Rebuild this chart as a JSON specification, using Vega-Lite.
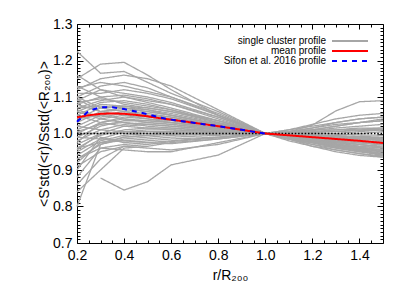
{
"$schema": "https://vega.github.io/schema/vega-lite/v6.json",
"width": 306, "height": 219,
"autosize": {"type": "none"},
"padding": {"left": 77, "top": 24, "right": 24, "bottom": 48},
"config": {
  "view": {"stroke": "black", "strokeWidth": 1},
  "font": "Liberation Sans",
  "axis": {"grid": false, "domain": false, "ticks": true, "zindex": 1, "tickColor": "black", "tickWidth": 1, "tickOpacity": 1, "labelColor": "black", "labelFont": "Liberation Sans", "labelFontSize": 14, "titleFont": "Liberation Sans", "titleFontSize": 14, "titleFontWeight": "normal", "titleColor": "black", "labelOverlap": false, "labelFlush": false, "labelBound": false}
},
"resolve": {"axis": {"x": "independent", "y": "independent"}},
"layer": [
{
  "data": {"values": [
{"i":1,"x":0.2,"y":1.225},{"i":1,"x":0.3,"y":1.165},{"i":1,"x":0.4,"y":1.17},{"i":1,"x":0.5,"y":1.14},{"i":1,"x":0.6,"y":1.11},{"i":1,"x":0.8,"y":1.06},{"i":1,"x":1.0,"y":1},{"i":1,"x":1.1,"y":0.99},{"i":1,"x":1.2,"y":0.975},{"i":1,"x":1.3,"y":0.965},{"i":1,"x":1.4,"y":0.955},{"i":1,"x":1.5,"y":0.95},
{"i":2,"x":0.2,"y":1.15},{"i":2,"x":0.3,"y":1.19},{"i":2,"x":0.4,"y":1.195},{"i":2,"x":0.5,"y":1.16},{"i":2,"x":0.6,"y":1.12},{"i":2,"x":0.8,"y":1.05},{"i":2,"x":1.0,"y":1},{"i":2,"x":1.1,"y":0.985},{"i":2,"x":1.2,"y":0.97},{"i":2,"x":1.3,"y":0.96},{"i":2,"x":1.4,"y":0.95},{"i":2,"x":1.5,"y":0.945},
{"i":3,"x":0.2,"y":1.12},{"i":3,"x":0.3,"y":1.15},{"i":3,"x":0.4,"y":1.16},{"i":3,"x":0.5,"y":1.15},{"i":3,"x":0.6,"y":1.13},{"i":3,"x":0.8,"y":1.065},{"i":3,"x":1.0,"y":1},{"i":3,"x":1.1,"y":0.99},{"i":3,"x":1.2,"y":0.98},{"i":3,"x":1.3,"y":0.97},{"i":3,"x":1.4,"y":0.96},{"i":3,"x":1.5,"y":0.955},
{"i":4,"x":0.2,"y":1.1},{"i":4,"x":0.3,"y":1.13},{"i":4,"x":0.4,"y":1.14},{"i":4,"x":0.5,"y":1.125},{"i":4,"x":0.6,"y":1.1},{"i":4,"x":0.8,"y":1.055},{"i":4,"x":1.0,"y":1},{"i":4,"x":1.1,"y":0.985},{"i":4,"x":1.2,"y":0.975},{"i":4,"x":1.3,"y":0.965},{"i":4,"x":1.4,"y":0.955},{"i":4,"x":1.5,"y":0.94},
{"i":5,"x":0.2,"y":1.11},{"i":5,"x":0.3,"y":1.11},{"i":5,"x":0.4,"y":1.12},{"i":5,"x":0.5,"y":1.11},{"i":5,"x":0.6,"y":1.095},{"i":5,"x":0.8,"y":1.05},{"i":5,"x":1.0,"y":1},{"i":5,"x":1.1,"y":0.995},{"i":5,"x":1.2,"y":0.99},{"i":5,"x":1.3,"y":0.985},{"i":5,"x":1.4,"y":0.98},{"i":5,"x":1.5,"y":0.975},
{"i":6,"x":0.2,"y":1.09},{"i":6,"x":0.3,"y":1.12},{"i":6,"x":0.4,"y":1.11},{"i":6,"x":0.5,"y":1.1},{"i":6,"x":0.6,"y":1.085},{"i":6,"x":0.8,"y":1.045},{"i":6,"x":1.0,"y":1},{"i":6,"x":1.1,"y":0.99},{"i":6,"x":1.2,"y":0.985},{"i":6,"x":1.3,"y":0.975},{"i":6,"x":1.4,"y":0.965},{"i":6,"x":1.5,"y":0.96},
{"i":7,"x":0.2,"y":1.08},{"i":7,"x":0.3,"y":1.1},{"i":7,"x":0.4,"y":1.105},{"i":7,"x":0.5,"y":1.095},{"i":7,"x":0.6,"y":1.08},{"i":7,"x":0.8,"y":1.04},{"i":7,"x":1.0,"y":1},{"i":7,"x":1.1,"y":0.995},{"i":7,"x":1.2,"y":0.99},{"i":7,"x":1.3,"y":0.98},{"i":7,"x":1.4,"y":0.975},{"i":7,"x":1.5,"y":0.97},
{"i":8,"x":0.2,"y":1.07},{"i":8,"x":0.3,"y":1.09},{"i":8,"x":0.4,"y":1.1},{"i":8,"x":0.5,"y":1.085},{"i":8,"x":0.6,"y":1.07},{"i":8,"x":0.8,"y":1.035},{"i":8,"x":1.0,"y":1},{"i":8,"x":1.1,"y":0.99},{"i":8,"x":1.2,"y":0.985},{"i":8,"x":1.3,"y":0.985},{"i":8,"x":1.4,"y":0.98},{"i":8,"x":1.5,"y":0.975},
{"i":9,"x":0.2,"y":1.06},{"i":9,"x":0.3,"y":1.085},{"i":9,"x":0.4,"y":1.09},{"i":9,"x":0.5,"y":1.08},{"i":9,"x":0.6,"y":1.065},{"i":9,"x":0.8,"y":1.03},{"i":9,"x":1.0,"y":1},{"i":9,"x":1.1,"y":0.998},{"i":9,"x":1.2,"y":0.995},{"i":9,"x":1.3,"y":0.99},{"i":9,"x":1.4,"y":0.985},{"i":9,"x":1.5,"y":0.985},
{"i":10,"x":0.2,"y":1.05},{"i":10,"x":0.3,"y":1.08},{"i":10,"x":0.4,"y":1.075},{"i":10,"x":0.5,"y":1.07},{"i":10,"x":0.6,"y":1.06},{"i":10,"x":0.8,"y":1.03},{"i":10,"x":1.0,"y":1},{"i":10,"x":1.1,"y":0.99},{"i":10,"x":1.2,"y":0.98},{"i":10,"x":1.3,"y":0.97},{"i":10,"x":1.4,"y":0.96},{"i":10,"x":1.5,"y":0.95},
{"i":11,"x":0.2,"y":1.04},{"i":11,"x":0.3,"y":1.07},{"i":11,"x":0.4,"y":1.075},{"i":11,"x":0.5,"y":1.065},{"i":11,"x":0.6,"y":1.05},{"i":11,"x":0.8,"y":1.025},{"i":11,"x":1.0,"y":1},{"i":11,"x":1.1,"y":0.985},{"i":11,"x":1.2,"y":0.975},{"i":11,"x":1.3,"y":0.965},{"i":11,"x":1.4,"y":0.955},{"i":11,"x":1.5,"y":0.945},
{"i":12,"x":0.2,"y":1.03},{"i":12,"x":0.3,"y":1.06},{"i":12,"x":0.4,"y":1.065},{"i":12,"x":0.5,"y":1.06},{"i":12,"x":0.6,"y":1.05},{"i":12,"x":0.8,"y":1.025},{"i":12,"x":1.0,"y":1},{"i":12,"x":1.1,"y":0.995},{"i":12,"x":1.2,"y":0.99},{"i":12,"x":1.3,"y":0.985},{"i":12,"x":1.4,"y":0.98},{"i":12,"x":1.5,"y":0.978},
{"i":13,"x":0.2,"y":1.1},{"i":13,"x":0.3,"y":1.07},{"i":13,"x":0.4,"y":1.06},{"i":13,"x":0.5,"y":1.055},{"i":13,"x":0.6,"y":1.045},{"i":13,"x":0.8,"y":1.02},{"i":13,"x":1.0,"y":1},{"i":13,"x":1.1,"y":1.0},{"i":13,"x":1.2,"y":0.995},{"i":13,"x":1.3,"y":0.99},{"i":13,"x":1.4,"y":0.99},{"i":13,"x":1.5,"y":0.985},
{"i":14,"x":0.2,"y":1.02},{"i":14,"x":0.3,"y":1.05},{"i":14,"x":0.4,"y":1.06},{"i":14,"x":0.5,"y":1.05},{"i":14,"x":0.6,"y":1.04},{"i":14,"x":0.8,"y":1.02},{"i":14,"x":1.0,"y":1},{"i":14,"x":1.1,"y":0.993},{"i":14,"x":1.2,"y":0.988},{"i":14,"x":1.3,"y":0.98},{"i":14,"x":1.4,"y":0.975},{"i":14,"x":1.5,"y":0.97},
{"i":15,"x":0.2,"y":1.01},{"i":15,"x":0.3,"y":1.04},{"i":15,"x":0.4,"y":1.05},{"i":15,"x":0.5,"y":1.045},{"i":15,"x":0.6,"y":1.04},{"i":15,"x":0.8,"y":1.02},{"i":15,"x":1.0,"y":1},{"i":15,"x":1.1,"y":1.005},{"i":15,"x":1.2,"y":1.01},{"i":15,"x":1.3,"y":1.01},{"i":15,"x":1.4,"y":1.015},{"i":15,"x":1.5,"y":1.015},
{"i":16,"x":0.2,"y":1.0},{"i":16,"x":0.3,"y":1.03},{"i":16,"x":0.4,"y":1.045},{"i":16,"x":0.5,"y":1.04},{"i":16,"x":0.6,"y":1.035},{"i":16,"x":0.8,"y":1.015},{"i":16,"x":1.0,"y":1},{"i":16,"x":1.1,"y":0.995},{"i":16,"x":1.2,"y":0.99},{"i":16,"x":1.3,"y":0.988},{"i":16,"x":1.4,"y":0.985},{"i":16,"x":1.5,"y":0.982},
{"i":17,"x":0.2,"y":0.99},{"i":17,"x":0.3,"y":1.02},{"i":17,"x":0.4,"y":1.035},{"i":17,"x":0.5,"y":1.035},{"i":17,"x":0.6,"y":1.03},{"i":17,"x":0.8,"y":1.015},{"i":17,"x":1.0,"y":1},{"i":17,"x":1.1,"y":1.002},{"i":17,"x":1.2,"y":1.005},{"i":17,"x":1.3,"y":1.01},{"i":17,"x":1.4,"y":1.012},{"i":17,"x":1.5,"y":1.015},
{"i":18,"x":0.2,"y":0.98},{"i":18,"x":0.3,"y":1.01},{"i":18,"x":0.4,"y":1.025},{"i":18,"x":0.5,"y":1.03},{"i":18,"x":0.6,"y":1.025},{"i":18,"x":0.8,"y":1.012},{"i":18,"x":1.0,"y":1},{"i":18,"x":1.1,"y":0.998},{"i":18,"x":1.2,"y":0.996},{"i":18,"x":1.3,"y":0.994},{"i":18,"x":1.4,"y":0.992},{"i":18,"x":1.5,"y":0.99},
{"i":19,"x":0.2,"y":0.97},{"i":19,"x":0.3,"y":1.0},{"i":19,"x":0.4,"y":1.02},{"i":19,"x":0.5,"y":1.025},{"i":19,"x":0.6,"y":1.02},{"i":19,"x":0.8,"y":1.01},{"i":19,"x":1.0,"y":1},{"i":19,"x":1.1,"y":1.005},{"i":19,"x":1.2,"y":1.015},{"i":19,"x":1.3,"y":1.025},{"i":19,"x":1.4,"y":1.03},{"i":19,"x":1.5,"y":1.035},
{"i":20,"x":0.2,"y":0.96},{"i":20,"x":0.3,"y":0.995},{"i":20,"x":0.4,"y":1.01},{"i":20,"x":0.5,"y":1.015},{"i":20,"x":0.6,"y":1.015},{"i":20,"x":0.8,"y":1.008},{"i":20,"x":1.0,"y":1},{"i":20,"x":1.1,"y":1.01},{"i":20,"x":1.2,"y":1.02},{"i":20,"x":1.3,"y":1.03},{"i":20,"x":1.4,"y":1.04},{"i":20,"x":1.5,"y":1.045},
{"i":21,"x":0.2,"y":0.95},{"i":21,"x":0.3,"y":0.985},{"i":21,"x":0.4,"y":1.005},{"i":21,"x":0.5,"y":1.01},{"i":21,"x":0.6,"y":1.01},{"i":21,"x":0.8,"y":1.005},{"i":21,"x":1.0,"y":1},{"i":21,"x":1.1,"y":1.0},{"i":21,"x":1.2,"y":1.003},{"i":21,"x":1.3,"y":1.005},{"i":21,"x":1.4,"y":1.008},{"i":21,"x":1.5,"y":1.01},
{"i":22,"x":0.2,"y":0.94},{"i":22,"x":0.3,"y":0.98},{"i":22,"x":0.4,"y":0.995},{"i":22,"x":0.5,"y":1.0},{"i":22,"x":0.6,"y":1.005},{"i":22,"x":0.8,"y":1.002},{"i":22,"x":1.0,"y":1},{"i":22,"x":1.1,"y":1.005},{"i":22,"x":1.2,"y":1.023},{"i":22,"x":1.3,"y":1.062},{"i":22,"x":1.4,"y":1.087},{"i":22,"x":1.5,"y":1.09},
{"i":23,"x":0.2,"y":0.93},{"i":23,"x":0.3,"y":0.97},{"i":23,"x":0.4,"y":0.985},{"i":23,"x":0.5,"y":0.99},{"i":23,"x":0.6,"y":0.995},{"i":23,"x":0.8,"y":0.998},{"i":23,"x":1.0,"y":1},{"i":23,"x":1.1,"y":1.01},{"i":23,"x":1.2,"y":1.025},{"i":23,"x":1.3,"y":1.04},{"i":23,"x":1.4,"y":1.05},{"i":23,"x":1.5,"y":1.055},
{"i":24,"x":0.2,"y":0.92},{"i":24,"x":0.3,"y":0.975},{"i":24,"x":0.4,"y":0.98},{"i":24,"x":0.5,"y":0.985},{"i":24,"x":0.6,"y":0.99},{"i":24,"x":0.8,"y":0.995},{"i":24,"x":1.0,"y":1},{"i":24,"x":1.1,"y":1.005},{"i":24,"x":1.2,"y":1.015},{"i":24,"x":1.3,"y":1.03},{"i":24,"x":1.4,"y":1.04},{"i":24,"x":1.5,"y":1.045},
{"i":25,"x":0.2,"y":0.9},{"i":25,"x":0.3,"y":0.99},{"i":25,"x":0.4,"y":0.975},{"i":25,"x":0.5,"y":0.98},{"i":25,"x":0.6,"y":0.985},{"i":25,"x":0.8,"y":0.99},{"i":25,"x":1.0,"y":1},{"i":25,"x":1.1,"y":1.0},{"i":25,"x":1.2,"y":0.995},{"i":25,"x":1.3,"y":0.99},{"i":25,"x":1.4,"y":0.985},{"i":25,"x":1.5,"y":0.98},
{"i":26,"x":0.2,"y":0.88},{"i":26,"x":0.3,"y":0.96},{"i":26,"x":0.4,"y":0.97},{"i":26,"x":0.5,"y":0.975},{"i":26,"x":0.6,"y":0.98},{"i":26,"x":0.8,"y":0.99},{"i":26,"x":1.0,"y":1},{"i":26,"x":1.1,"y":0.995},{"i":26,"x":1.2,"y":0.99},{"i":26,"x":1.3,"y":0.985},{"i":26,"x":1.4,"y":0.975},{"i":26,"x":1.5,"y":0.97},
{"i":27,"x":0.2,"y":0.86},{"i":27,"x":0.3,"y":0.93},{"i":27,"x":0.4,"y":0.965},{"i":27,"x":0.5,"y":0.97},{"i":27,"x":0.6,"y":0.978},{"i":27,"x":0.8,"y":0.988},{"i":27,"x":1.0,"y":1},{"i":27,"x":1.1,"y":0.99},{"i":27,"x":1.2,"y":0.98},{"i":27,"x":1.3,"y":0.965},{"i":27,"x":1.4,"y":0.955},{"i":27,"x":1.5,"y":0.945},
{"i":28,"x":0.2,"y":0.84},{"i":28,"x":0.3,"y":0.9},{"i":28,"x":0.4,"y":0.96},{"i":28,"x":0.5,"y":0.965},{"i":28,"x":0.6,"y":0.975},{"i":28,"x":0.8,"y":0.985},{"i":28,"x":1.0,"y":1},{"i":28,"x":1.1,"y":0.985},{"i":28,"x":1.2,"y":0.97},{"i":28,"x":1.3,"y":0.955},{"i":28,"x":1.4,"y":0.945},{"i":28,"x":1.5,"y":0.935},
{"i":29,"x":0.2,"y":0.8},{"i":29,"x":0.3,"y":0.97},{"i":29,"x":0.4,"y":0.99},{"i":29,"x":0.5,"y":0.995},{"i":29,"x":0.6,"y":0.998},{"i":29,"x":0.8,"y":0.999},{"i":29,"x":1.0,"y":1},{"i":29,"x":1.1,"y":1.002},{"i":29,"x":1.2,"y":1.004},{"i":29,"x":1.3,"y":1.006},{"i":29,"x":1.4,"y":1.01},{"i":29,"x":1.5,"y":1.012},
{"i":30,"x":0.2,"y":0.93},{"i":30,"x":0.3,"y":0.96},{"i":30,"x":0.4,"y":0.955},{"i":30,"x":0.5,"y":0.95},{"i":30,"x":0.6,"y":0.95},{"i":30,"x":0.8,"y":0.975},{"i":30,"x":1.0,"y":1},{"i":30,"x":1.1,"y":0.99},{"i":30,"x":1.2,"y":0.975},{"i":30,"x":1.3,"y":0.96},{"i":30,"x":1.4,"y":0.95},{"i":30,"x":1.5,"y":0.94},
{"i":31,"x":0.2,"y":0.99},{"i":31,"x":0.3,"y":0.985},{"i":31,"x":0.4,"y":0.98},{"i":31,"x":0.5,"y":0.975},{"i":31,"x":0.6,"y":0.972},{"i":31,"x":0.8,"y":0.985},{"i":31,"x":1.0,"y":1},{"i":31,"x":1.1,"y":0.98},{"i":31,"x":1.2,"y":0.965},{"i":31,"x":1.3,"y":0.95},{"i":31,"x":1.4,"y":0.94},{"i":31,"x":1.5,"y":0.935},
{"i":32,"x":0.2,"y":1.06},{"i":32,"x":0.3,"y":1.04},{"i":32,"x":0.4,"y":1.03},{"i":32,"x":0.5,"y":1.02},{"i":32,"x":0.6,"y":1.015},{"i":32,"x":0.8,"y":1.005},{"i":32,"x":1.0,"y":1},{"i":32,"x":1.1,"y":0.99},{"i":32,"x":1.2,"y":0.98},{"i":32,"x":1.3,"y":0.975},{"i":32,"x":1.4,"y":0.97},{"i":32,"x":1.5,"y":0.965},
{"i":33,"x":0.2,"y":1.08},{"i":33,"x":0.3,"y":1.06},{"i":33,"x":0.4,"y":1.05},{"i":33,"x":0.5,"y":1.04},{"i":33,"x":0.6,"y":1.03},{"i":33,"x":0.8,"y":1.015},{"i":33,"x":1.0,"y":1},{"i":33,"x":1.1,"y":0.995},{"i":33,"x":1.2,"y":0.985},{"i":33,"x":1.3,"y":0.975},{"i":33,"x":1.4,"y":0.965},{"i":33,"x":1.5,"y":0.96},
{"i":34,"x":0.2,"y":1.05},{"i":34,"x":0.3,"y":1.03},{"i":34,"x":0.4,"y":1.02},{"i":34,"x":0.5,"y":1.015},{"i":34,"x":0.6,"y":1.01},{"i":34,"x":0.8,"y":1.005},{"i":34,"x":1.0,"y":1},{"i":34,"x":1.1,"y":1.005},{"i":34,"x":1.2,"y":1.01},{"i":34,"x":1.3,"y":1.02},{"i":34,"x":1.4,"y":1.03},{"i":34,"x":1.5,"y":1.04},
{"i":35,"x":0.2,"y":1.0},{"i":35,"x":0.3,"y":1.0},{"i":35,"x":0.4,"y":1.0},{"i":35,"x":0.5,"y":1.0},{"i":35,"x":0.6,"y":1.002},{"i":35,"x":0.8,"y":1.0},{"i":35,"x":1.0,"y":1},{"i":35,"x":1.1,"y":0.998},{"i":35,"x":1.2,"y":0.995},{"i":35,"x":1.3,"y":0.99},{"i":35,"x":1.4,"y":0.988},{"i":35,"x":1.5,"y":0.985},
{"i":36,"x":0.2,"y":1.02},{"i":36,"x":0.3,"y":1.01},{"i":36,"x":0.4,"y":1.005},{"i":36,"x":0.5,"y":1.0},{"i":36,"x":0.6,"y":0.998},{"i":36,"x":0.8,"y":0.998},{"i":36,"x":1.0,"y":1},{"i":36,"x":1.1,"y":0.994},{"i":36,"x":1.2,"y":0.985},{"i":36,"x":1.3,"y":0.978},{"i":36,"x":1.4,"y":0.97},{"i":36,"x":1.5,"y":0.962},
{"i":37,"x":0.2,"y":1.13},{"i":37,"x":0.3,"y":1.1},{"i":37,"x":0.4,"y":1.08},{"i":37,"x":0.5,"y":1.07},{"i":37,"x":0.6,"y":1.06},{"i":37,"x":0.8,"y":1.035},{"i":37,"x":1.0,"y":1},{"i":37,"x":1.1,"y":0.995},{"i":37,"x":1.2,"y":0.992},{"i":37,"x":1.3,"y":0.995},{"i":37,"x":1.4,"y":1.0},{"i":37,"x":1.5,"y":1.005},
{"i":38,"x":0.2,"y":1.16},{"i":38,"x":0.3,"y":1.12},{"i":38,"x":0.4,"y":1.1},{"i":38,"x":0.5,"y":1.09},{"i":38,"x":0.6,"y":1.08},{"i":38,"x":0.8,"y":1.045},{"i":38,"x":1.0,"y":1},{"i":38,"x":1.1,"y":0.985},{"i":38,"x":1.2,"y":0.965},{"i":38,"x":1.3,"y":0.955},{"i":38,"x":1.4,"y":0.945},{"i":38,"x":1.5,"y":0.938},
{"i":39,"x":0.3,"y":0.878},{"i":39,"x":0.4,"y":0.845},{"i":39,"x":0.5,"y":0.868},{"i":39,"x":0.6,"y":0.914},{"i":39,"x":0.8,"y":0.941},{"i":39,"x":1.0,"y":1},{"i":39,"x":1.1,"y":0.99},{"i":39,"x":1.2,"y":0.98},{"i":39,"x":1.3,"y":0.97},{"i":39,"x":1.4,"y":0.962},{"i":39,"x":1.5,"y":0.955},
{"i":40,"x":0.2,"y":0.91},{"i":40,"x":0.3,"y":0.95},{"i":40,"x":0.4,"y":0.965},{"i":40,"x":0.5,"y":0.96},{"i":40,"x":0.6,"y":0.955},{"i":40,"x":0.8,"y":0.97},{"i":40,"x":1.0,"y":1},{"i":40,"x":1.1,"y":1.0},{"i":40,"x":1.2,"y":1.01},{"i":40,"x":1.3,"y":1.02},{"i":40,"x":1.4,"y":1.03},{"i":40,"x":1.5,"y":1.035},
{"i":41,"x":0.2,"y":1.04},{"i":41,"x":0.3,"y":1.05},{"i":41,"x":0.4,"y":1.04},{"i":41,"x":0.5,"y":1.035},{"i":41,"x":0.6,"y":1.03},{"i":41,"x":0.8,"y":1.015},{"i":41,"x":1.0,"y":1},{"i":41,"x":1.1,"y":0.985},{"i":41,"x":1.2,"y":0.975},{"i":41,"x":1.3,"y":0.962},{"i":41,"x":1.4,"y":0.952},{"i":41,"x":1.5,"y":0.942},
{"i":42,"x":0.2,"y":1.005},{"i":42,"x":0.3,"y":1.025},{"i":42,"x":0.4,"y":1.03},{"i":42,"x":0.5,"y":1.025},{"i":42,"x":0.6,"y":1.02},{"i":42,"x":0.8,"y":1.01},{"i":42,"x":1.0,"y":1},{"i":42,"x":1.1,"y":0.992},{"i":42,"x":1.2,"y":0.982},{"i":42,"x":1.3,"y":0.972},{"i":42,"x":1.4,"y":0.962},{"i":42,"x":1.5,"y":0.953},
{"i":43,"x":0.2,"y":0.96},{"i":43,"x":0.3,"y":0.975},{"i":43,"x":0.4,"y":0.99},{"i":43,"x":0.5,"y":0.995},{"i":43,"x":0.6,"y":1.0},{"i":43,"x":0.8,"y":1.0},{"i":43,"x":1.0,"y":1},{"i":43,"x":1.1,"y":1.003},{"i":43,"x":1.2,"y":1.008},{"i":43,"x":1.3,"y":1.015},{"i":43,"x":1.4,"y":1.02},{"i":43,"x":1.5,"y":1.025},
{"i":44,"x":0.2,"y":1.07},{"i":44,"x":0.3,"y":1.075},{"i":44,"x":0.4,"y":1.07},{"i":44,"x":0.5,"y":1.06},{"i":44,"x":0.6,"y":1.05},{"i":44,"x":0.8,"y":1.025},{"i":44,"x":1.0,"y":1},{"i":44,"x":1.1,"y":0.996},{"i":44,"x":1.2,"y":0.998},{"i":44,"x":1.3,"y":1.0},{"i":44,"x":1.4,"y":1.005},{"i":44,"x":1.5,"y":1.01},
{"i":45,"x":0.2,"y":1.085},{"i":45,"x":0.3,"y":1.095},{"i":45,"x":0.4,"y":1.085},{"i":45,"x":0.5,"y":1.075},{"i":45,"x":0.6,"y":1.065},{"i":45,"x":0.8,"y":1.035},{"i":45,"x":1.0,"y":1},{"i":45,"x":1.1,"y":0.992},{"i":45,"x":1.2,"y":0.985},{"i":45,"x":1.3,"y":0.978},{"i":45,"x":1.4,"y":0.97},{"i":45,"x":1.5,"y":0.962},
{"i":46,"x":0.2,"y":1.095},{"i":46,"x":0.3,"y":1.06},{"i":46,"x":0.4,"y":1.07},{"i":46,"x":0.5,"y":1.065},{"i":46,"x":0.6,"y":1.055},{"i":46,"x":0.8,"y":1.028},{"i":46,"x":1.0,"y":1},{"i":46,"x":1.1,"y":0.99},{"i":46,"x":1.2,"y":0.978},{"i":46,"x":1.3,"y":0.968},{"i":46,"x":1.4,"y":0.958},{"i":46,"x":1.5,"y":0.95},
{"i":47,"x":0.2,"y":1.125},{"i":47,"x":0.3,"y":1.14},{"i":47,"x":0.4,"y":1.13},{"i":47,"x":0.5,"y":1.115},{"i":47,"x":0.6,"y":1.1},{"i":47,"x":0.8,"y":1.05},{"i":47,"x":1.0,"y":1},{"i":47,"x":1.1,"y":0.988},{"i":47,"x":1.2,"y":0.978},{"i":47,"x":1.3,"y":0.97},{"i":47,"x":1.4,"y":0.962},{"i":47,"x":1.5,"y":0.955},
{"i":48,"x":0.2,"y":0.975},{"i":48,"x":0.3,"y":1.03},{"i":48,"x":0.4,"y":1.04},{"i":48,"x":0.5,"y":1.03},{"i":48,"x":0.6,"y":1.025},{"i":48,"x":0.8,"y":1.012},{"i":48,"x":1.0,"y":1},{"i":48,"x":1.1,"y":1.001},{"i":48,"x":1.2,"y":1.0},{"i":48,"x":1.3,"y":0.998},{"i":48,"x":1.4,"y":0.996},{"i":48,"x":1.5,"y":0.995},
{"i":49,"x":0.2,"y":0.955},{"i":49,"x":0.3,"y":1.0},{"i":49,"x":0.4,"y":1.005},{"i":49,"x":0.5,"y":1.005},{"i":49,"x":0.6,"y":1.005},{"i":49,"x":0.8,"y":1.003},{"i":49,"x":1.0,"y":1},{"i":49,"x":1.1,"y":0.997},{"i":49,"x":1.2,"y":0.99},{"i":49,"x":1.3,"y":0.983},{"i":49,"x":1.4,"y":0.975},{"i":49,"x":1.5,"y":0.968},
{"i":50,"x":0.2,"y":1.065},{"i":50,"x":0.3,"y":1.045},{"i":50,"x":0.4,"y":1.055},{"i":50,"x":0.5,"y":1.05},{"i":50,"x":0.6,"y":1.045},{"i":50,"x":0.8,"y":1.022},{"i":50,"x":1.0,"y":1},{"i":50,"x":1.1,"y":0.998},{"i":50,"x":1.2,"y":0.996},{"i":50,"x":1.3,"y":0.992},{"i":50,"x":1.4,"y":0.99},{"i":50,"x":1.5,"y":0.988}
  ]},
  "mark": {"type": "line", "strokeWidth": 1.3},
  "encoding": {
    "x": {"field": "x", "type": "quantitative",
      "scale": {"domain": [0.2, 1.5], "nice": false, "zero": false},
      "axis": {"orient": "bottom", "values": [0.2,0.4,0.6,0.8,1.0,1.2,1.4], "format": ".1f",
        "offset": -5, "tickSize": 5, "labelPadding": 5,
        "title": "r/R₂₀₀", "titlePadding": 6}},
    "y": {"field": "y", "type": "quantitative",
      "scale": {"domain": [0.7, 1.3], "nice": false, "zero": false},
      "axis": {"orient": "left", "values": [0.7,0.8,0.9,1.0,1.1,1.2,1.3], "format": ".1f",
        "offset": -6, "tickSize": 6, "labelPadding": 5,
        "title": "<S'std(<r)/Sstd(<R₂₀₀)>", "titlePadding": 1}},
    "detail": {"field": "i", "type": "nominal"},
    "color": {"datum": "single cluster profile",
      "scale": {"domain": ["single cluster profile", "mean profile", "Sifon et al. 2016 profile"], "range": ["#a6a6a6", "#ff0000", "#0000ff"]},
      "legend": {"title": null, "orient": "none", "legendX": 268, "legendY": 12, "symbolType": "M-6,0H6", "symbolSize": 36, "symbolStrokeWidth": 2, "symbolOpacity": 1, "labelFontSize": 10, "labelFont": "Liberation Sans", "labelColor": "black", "rowPadding": 0, "padding": 0, "labelLimit": 0,
        "encode": {"labels": {"update": {"x": {"value": -19}, "align": {"value": "right"}}}, "symbols": {"update": {"strokeWidth": {"value": 2}, "opacity": {"value": 1}}}}}},
    "strokeDash": {"datum": "single cluster profile",
      "scale": {"domain": ["single cluster profile", "mean profile", "Sifon et al. 2016 profile"], "range": [[1, 0], [1, 0], [5, 5]]}}
  }
},
{
  "data": {"values": [{"x": 0.2, "y": 1}, {"x": 1.5, "y": 1}]},
  "mark": {"type": "line", "color": "black", "strokeWidth": 1.3, "strokeDash": [1.5, 1.8]},
  "encoding": {
    "x": {"field": "x", "type": "quantitative",
      "axis": {"orient": "bottom", "values": [0.25,0.3,0.35,0.45,0.5,0.55,0.65,0.7,0.75,0.85,0.9,0.95,1.05,1.1,1.15,1.25,1.3,1.35,1.45],
        "offset": -3, "tickSize": 3, "labels": false, "title": null}},
    "y": {"field": "y", "type": "quantitative",
      "axis": {"orient": "left", "values": [0.71,0.72,0.73,0.74,0.75,0.76,0.77,0.78,0.79,0.81,0.82,0.83,0.84,0.85,0.86,0.87,0.88,0.89,0.91,0.92,0.93,0.94,0.95,0.96,0.97,0.98,0.99,1.01,1.02,1.03,1.04,1.05,1.06,1.07,1.08,1.09,1.11,1.12,1.13,1.14,1.15,1.16,1.17,1.18,1.19,1.21,1.22,1.23,1.24,1.25,1.26,1.27,1.28,1.29],
        "offset": -3, "tickSize": 3, "labels": false, "title": null}}
  }
},
{
  "data": {"values": [
    {"x":0.2,"y":1.044},{"x":0.25,"y":1.05},{"x":0.3,"y":1.054},{"x":0.35,"y":1.055},{"x":0.4,"y":1.054},{"x":0.45,"y":1.051},{"x":0.5,"y":1.047},{"x":0.55,"y":1.042},{"x":0.6,"y":1.038},{"x":0.7,"y":1.029},{"x":0.8,"y":1.02},{"x":0.9,"y":1.01},{"x":1.0,"y":1.0},{"x":1.1,"y":0.995},{"x":1.2,"y":0.99},{"x":1.3,"y":0.985},{"x":1.4,"y":0.98},{"x":1.5,"y":0.974}
  ]},
  "mark": {"type": "line", "strokeWidth": 2},
  "encoding": {
    "x": {"field": "x", "type": "quantitative",
      "axis": {"orient": "top", "values": [0.2,0.4,0.6,0.8,1.0,1.2,1.4],
        "offset": -5, "tickSize": 5, "labels": false, "title": null}},
    "y": {"field": "y", "type": "quantitative",
      "axis": {"orient": "right", "values": [0.7,0.8,0.9,1.0,1.1,1.2,1.3],
        "offset": -6, "tickSize": 6, "labels": false, "title": null}},
    "color": {"datum": "mean profile"},
    "strokeDash": {"datum": "mean profile"}
  }
},
{
  "data": {"values": [
    {"x":0.2,"y":1.032},{"x":0.25,"y":1.062},{"x":0.3,"y":1.072},{"x":0.35,"y":1.072},{"x":0.4,"y":1.067},{"x":0.45,"y":1.06},{"x":0.5,"y":1.053},{"x":0.55,"y":1.044},{"x":0.6,"y":1.038},{"x":0.7,"y":1.029},{"x":0.8,"y":1.02},{"x":0.9,"y":1.01},{"x":1.0,"y":1.0}
  ]},
  "mark": {"type": "line", "strokeWidth": 2},
  "encoding": {
    "x": {"field": "x", "type": "quantitative",
      "axis": {"orient": "top", "values": [0.25,0.3,0.35,0.45,0.5,0.55,0.65,0.7,0.75,0.85,0.9,0.95,1.05,1.1,1.15,1.25,1.3,1.35,1.45],
        "offset": -3, "tickSize": 3, "labels": false, "title": null}},
    "y": {"field": "y", "type": "quantitative",
      "axis": {"orient": "right", "values": [0.71,0.72,0.73,0.74,0.75,0.76,0.77,0.78,0.79,0.81,0.82,0.83,0.84,0.85,0.86,0.87,0.88,0.89,0.91,0.92,0.93,0.94,0.95,0.96,0.97,0.98,0.99,1.01,1.02,1.03,1.04,1.05,1.06,1.07,1.08,1.09,1.11,1.12,1.13,1.14,1.15,1.16,1.17,1.18,1.19,1.21,1.22,1.23,1.24,1.25,1.26,1.27,1.28,1.29],
        "offset": -3, "tickSize": 3, "labels": false, "title": null}},
    "color": {"datum": "Sifon et al. 2016 profile"},
    "strokeDash": {"datum": "Sifon et al. 2016 profile"}
  }
}
]
}
